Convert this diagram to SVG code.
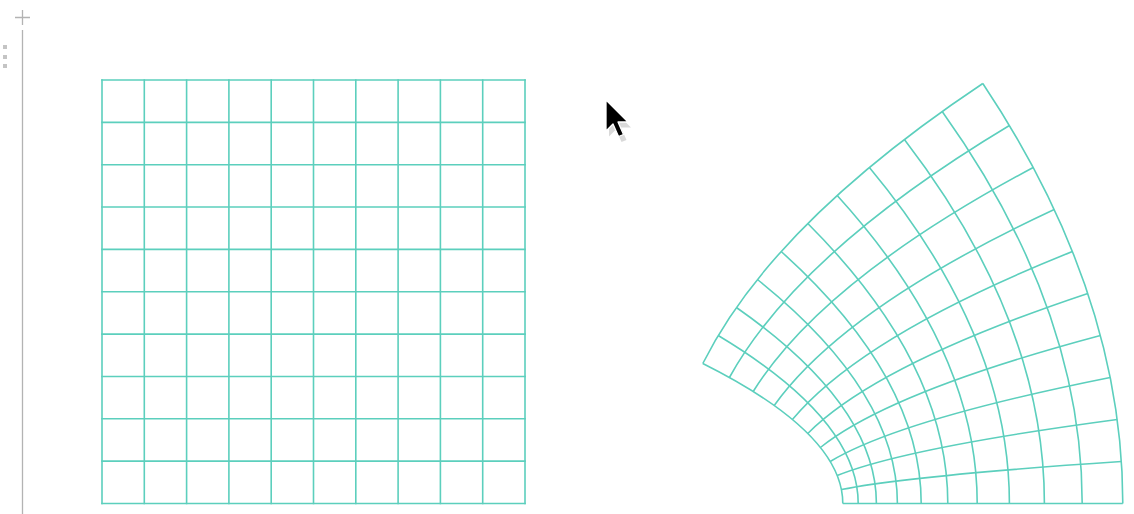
<svg xmlns="http://www.w3.org/2000/svg" width="1134" height="514" viewBox="0 0 1134 514">
<style>
.g{fill:none;stroke:#5ccfbd;stroke-width:1.6;stroke-linecap:square}
.c{fill:none;stroke:#5ccfbd;stroke-width:1.6;vector-effect:non-scaling-stroke}
.ui{stroke:#b3b3b3;stroke-width:1.3;fill:none}
</style>
<rect width="1134" height="514" fill="#ffffff"/>
<g id="ruler">
<path class="ui" d="M15 17.5H30M22.5 10V25"/>
<path class="ui" d="M22.5 30V514"/>
<rect x="3" y="45" width="4" height="4" fill="#c4c4c4"/>
<rect x="3" y="55" width="4" height="4" fill="#c4c4c4"/>
<rect x="3" y="64" width="4" height="4" fill="#c4c4c4"/>
</g>
<g id="square-grid">
<path class="g" d="M102 80V503.5M144.3 80V503.5M186.6 80V503.5M228.9 80V503.5M271.2 80V503.5M313.5 80V503.5M355.8 80V503.5M398.1 80V503.5M440.4 80V503.5M482.7 80V503.5M525 80V503.5"/>
<path class="g" d="M102 80H525M102 122.35H525M102 164.7H525M102 207.05H525M102 249.4H525M102 291.75H525M102 334.1H525M102 376.45H525M102 418.8H525M102 461.15H525M102 503.5H525"/>
</g>
<g id="mapped-grid" transform="translate(807.8 503.5) scale(1.4 -1.4)">
<path class="c" d="M25 0Q25 50 -75 100M36 0Q36 60 -64 120M49 0Q49 70 -51 140M64 0Q64 80 -36 160M81 0Q81 90 -19 180M100 0Q100 100 0 200M121 0Q121 110 21 220M144 0Q144 120 44 240M169 0Q169 130 69 260M196 0Q196 140 96 280M225 0Q225 150 125 300"/>
<path class="c" d="M25 0Q75 0 225 0M24 10Q74 20 224 30M21 20Q71 40 221 60M16 30Q66 60 216 90M9 40Q59 80 209 120M0 50Q50 100 200 150M-11 60Q39 120 189 180M-24 70Q26 140 176 210M-39 80Q11 160 161 240M-56 90Q-6 180 144 270M-75 100Q-25 200 125 300"/>
</g>
<g id="cursor">
<path d="M607.5 103V134L614.5 127L620 139.5L625 137.5L619.5 125H629.5Z" fill="#000" opacity="0.15" transform="translate(1.5 2.5)"/>
<path d="M606 100V131L613 124L618.5 136.5L623.5 134.5L618 122H628Z" fill="#000" stroke="#fff" stroke-width="1.3" stroke-linejoin="round"/>
</g>
</svg>
